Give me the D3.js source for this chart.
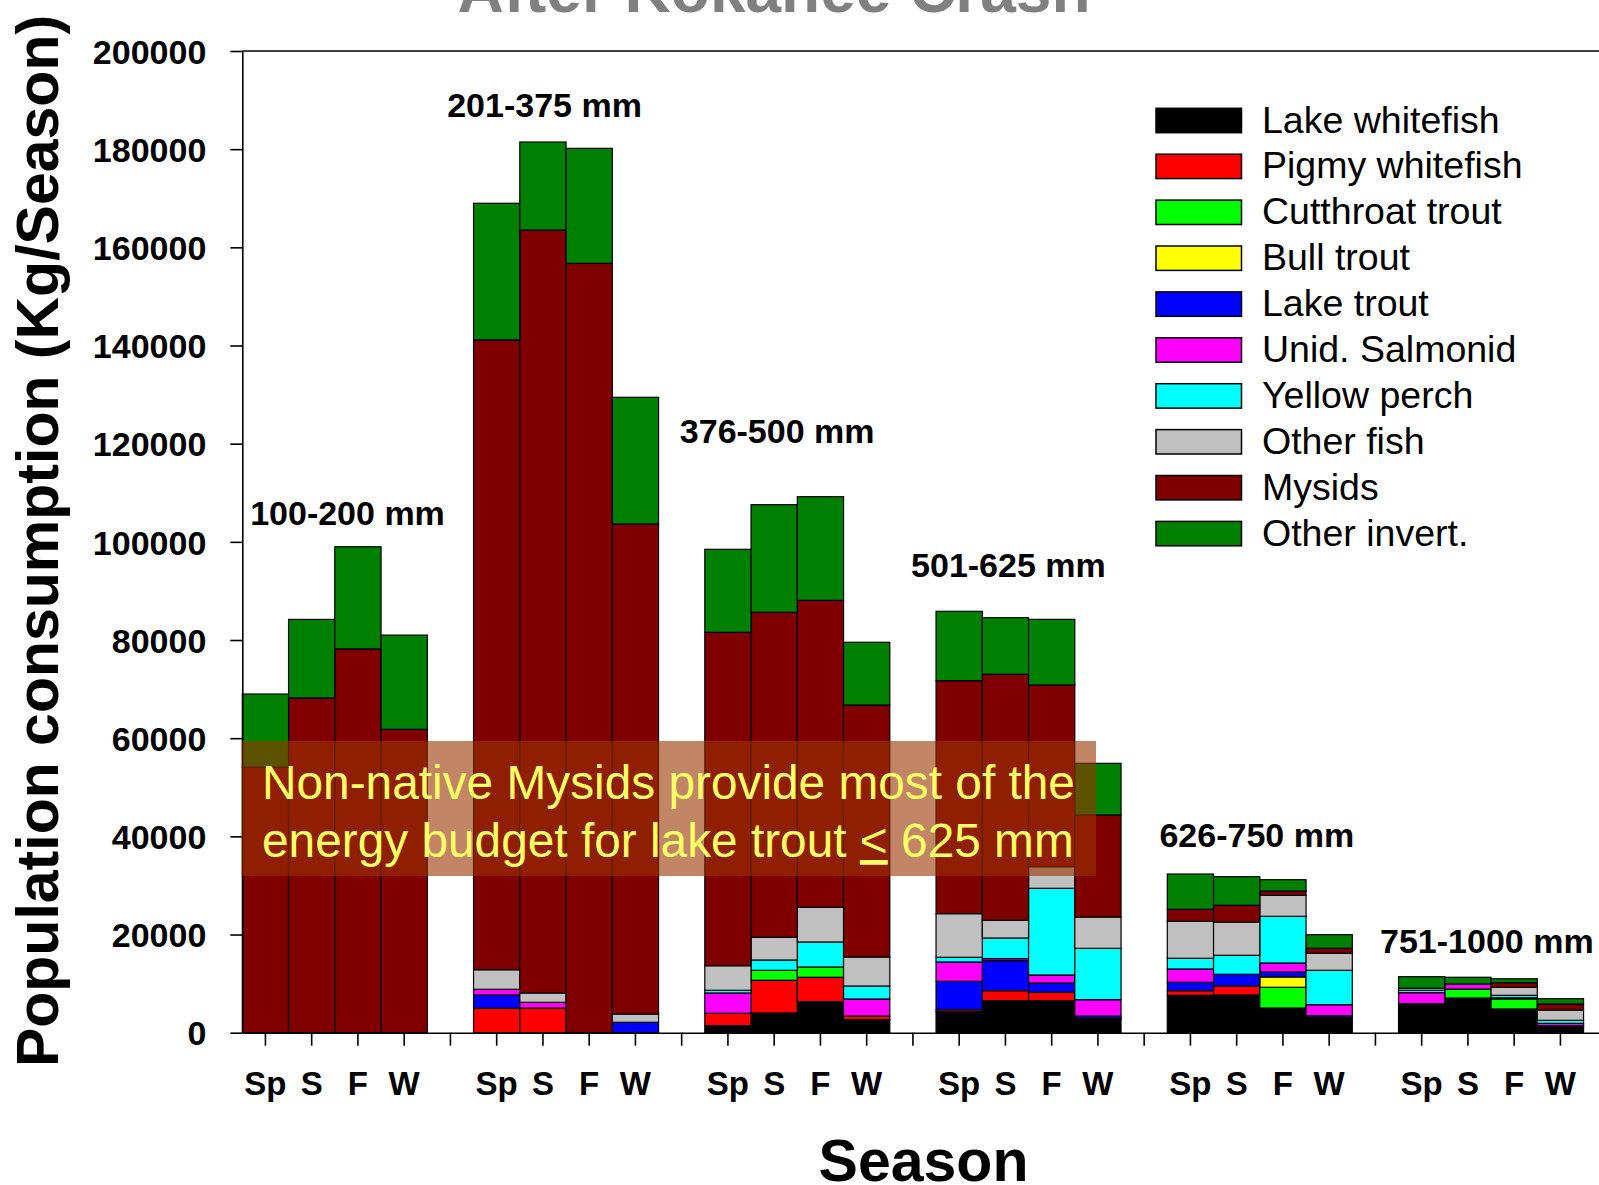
<!DOCTYPE html>
<html>
<head>
<meta charset="utf-8">
<script src="https://cdn.jsdelivr.net/npm/d3@7"></script>
<style>
  html, body { margin: 0; padding: 0; background: #fff; }
  svg { display: block; font-family: "Liberation Sans", Arial, sans-serif; }
</style>
</head>
<body>
<svg id="chart" width="1599" height="1185"></svg>
<script>
// ---------------- data ----------------
const groups = ["100-200 mm", "201-375 mm", "376-500 mm", "501-625 mm", "626-750 mm", "751-1000 mm"];
const seasons = ["Sp", "S", "F", "W"];
const seriesNames = ["Lake whitefish", "Pigmy whitefish", "Cutthroat trout", "Bull trout", "Lake trout",
                     "Unid. Salmonid", "Yellow perch", "Other fish", "Mysids", "Other invert."];
const seriesColors = ["#000000", "#FF0000", "#00FF00", "#FFFF00", "#0000FF",
                      "#FF00FF", "#00FFFF", "#C0C0C0", "#800000", "#008000"];
const yTicks = [0, 20000, 40000, 60000, 80000, 100000, 120000, 140000, 160000, 180000, 200000];

// values per bar (Sp, S, F, W within each size group), in series order
const lakeWhitefish  = [0,0,0,0,  0,0,0,0,  1430,4010,6320,2650,  4280,6520,6520,2730,  7620,7680,5030,3130,  5790,7070,4830,1220];
const pigmyWhitefish = [0,0,0,0,  4970,5030,0,0,  2520,6670,4970,750,  410,2040,1710,200,  940,1830,0,0,  0,0,0,0];
const cutthroatTrout = [0,0,0,0,  0,0,0,0,  0,2030,2100,0,  0,0,0,0,  0,0,4220,0,  0,1830,2040,0];
const bullTrout      = [0,0,0,0,  0,0,0,0,  0,0,0,0,  0,0,0,0,  0,0,2100,0,  0,0,0,0];
const lakeTrout      = [0,0,0,0,  2710,0,0,2120,  0,0,0,0,  5780,6110,1900,470,  1710,2390,1020,330,  100,0,0,210];
const unidSalmonid   = [0,0,0,0,  1160,1160,0,0,  4140,0,0,3470,  3930,410,1630,3320,  2710,0,1830,2240,  2260,1020,250,470];
const yellowPerch    = [0,0,0,0,  0,0,0,0,  550,2100,5090,2640,  960,4210,17660,10470,  2180,3870,9510,7010,  490,0,490,620];
const otherFish      = [0,0,0,0,  3990,1900,0,1690,  5010,4630,7070,5910,  8890,3610,4400,6380,  7530,6780,4280,3470,  410,0,1630,2100];
const mysids         = [54100,68200,78200,61800,  128300,155440,156740,99830,  67920,66200,62540,51340,  47460,50120,37020,20780,  2450,3410,880,1010,  0,0,940,1230];
const otherInvert    = [14900,16000,20800,19200,  27850,17930,23430,25810,  16910,21930,21110,12780,  14140,11530,13370,10530,  7190,5830,2300,2780,  2360,1370,810,1080];

const seriesValues = [lakeWhitefish, pigmyWhitefish, cutthroatTrout, bullTrout, lakeTrout,
                      unidSalmonid, yellowPerch, otherFish, mysids, otherInvert];

// annotation text
const titleText = "After Kokanee Crash";
const yTitle = "Population consumption (Kg/Season)";
const xTitle = "Season";
const noteLine1 = "Non-native Mysids provide most of the";
const noteLine2a = "energy budget for lake trout ";
const noteLine2b = "<";
const noteLine2c = " 625 mm";

// ---------------- layout ----------------
const svg = d3.select("#chart");
const plotLeft = 242.3, plotBottom = 1032.7, plotTop = 51;
const slotW = 46.25;

// build slot list: 4 seasons + 1 gap per group
const slots = [];
groups.forEach((g, gi) => {
  seasons.forEach(s => slots.push({key: gi + "-" + s, label: s, gi}));
  slots.push({key: gi + "-gap", label: "", gi});
});

const x = d3.scaleBand()
  .domain(slots.map(d => d.key))
  .range([plotLeft, plotLeft + slots.length * slotW])
  .padding(0);

const y = d3.scaleLinear().domain([0, 200000]).range([plotBottom, plotTop]);

// rows for stacking
const rows = [];
groups.forEach((g, gi) => {
  seasons.forEach((s, si) => {
    const idx = gi * 4 + si;
    const row = {key: gi + "-" + s};
    seriesNames.forEach((n, k) => row[n] = seriesValues[k][idx]);
    rows.push(row);
  });
});

const stack = d3.stack().keys(seriesNames);
const stacked = stack(rows);

// bars
const barsG = svg.append("g");
stacked.forEach((layer, k) => {
  barsG.append("g")
    .selectAll("rect")
    .data(layer.filter(d => d[1] - d[0] > 0))
    .join("rect")
    .attr("x", d => x(d.data.key))
    .attr("width", x.bandwidth())
    .attr("y", d => y(d[1]))
    .attr("height", d => y(d[0]) - y(d[1]))
    .attr("fill", seriesColors[k])
    .attr("stroke", "#000")
    .attr("stroke-width", 1.2);
});

// axes
const yAxis = d3.axisLeft(y).tickValues(yTicks).tickSize(12).tickSizeOuter(0).tickFormat(d3.format("d"));
const yg = svg.append("g").attr("transform", `translate(${plotLeft},0)`).call(yAxis);
yg.select(".domain").attr("stroke", "#000").attr("stroke-width", 1.6);
yg.selectAll(".tick line").attr("stroke", "#000").attr("stroke-width", 1.6);
yg.selectAll(".tick text")
  .attr("x", -36)
  .attr("dy", "0.36em")
  .attr("font-size", 34)
  .attr("font-weight", "bold")
  .attr("font-family", "Liberation Sans, Arial, sans-serif")
  .attr("fill", "#000");

const xAxis = d3.axisBottom(x).tickSize(13).tickSizeOuter(0).tickFormat(k => slots.find(s => s.key === k).label);
const xg = svg.append("g").attr("transform", `translate(0,${plotBottom})`).call(xAxis);
xg.select(".domain").attr("stroke", "#000").attr("stroke-width", 1.6);
xg.selectAll(".tick line").attr("stroke", "#000").attr("stroke-width", 1.6);
xg.selectAll(".tick text")
  .attr("y", 62)
  .attr("dy", 0)
  .attr("font-size", 33)
  .attr("font-weight", "bold")
  .attr("font-family", "Liberation Sans, Arial, sans-serif")
  .attr("fill", "#000");

// top frame line
svg.append("line")
  .attr("x1", plotLeft).attr("x2", 1599)
  .attr("y1", y(200000)).attr("y2", y(200000))
  .attr("stroke", "#000").attr("stroke-width", 1.6);

// group labels (placement in data units: slot offset from group start, value)
const groupLabelPlace = [[0.17, 103430], [-0.57, 186560], [-0.54, 120080], [-0.54, 92840], [-0.17, 37830], [-0.40, 16180]];
svg.append("g").selectAll("text")
  .data(groups)
  .join("text")
  .attr("x", (g, i) => x(i + "-Sp") + groupLabelPlace[i][0] * slotW)
  .attr("y", (g, i) => y(groupLabelPlace[i][1]))
  .attr("font-size", 34)
  .attr("font-weight", "bold")
  .attr("fill", "#000")
  .text(d => d);

// legend
const legend = svg.append("g");
seriesNames.forEach((n, i) => {
  const ly = 108.3 + i * 45.9;
  legend.append("rect")
    .attr("x", 1156).attr("y", ly).attr("width", 85.5).attr("height", 24.4)
    .attr("fill", seriesColors[i]).attr("stroke", "#000").attr("stroke-width", 1.5);
  legend.append("text")
    .attr("x", 1262).attr("y", ly + 24.2)
    .attr("font-size", 37.5)
    .attr("fill", "#000")
    .text(n);
});

// annotation box
svg.append("rect")
  .attr("x", 241.5).attr("y", 741).attr("width", 1096 - 241.5).attr("height", 876 - 741)
  .attr("fill", "#993300").attr("fill-opacity", 0.6);

svg.append("text")
  .attr("x", 262).attr("y", 799)
  .attr("font-size", 47.8).attr("fill", "#FFFF66")
  .text(noteLine1);
const t2 = svg.append("text")
  .attr("x", 262).attr("y", 857)
  .attr("font-size", 47.8).attr("fill", "#FFFF66");
t2.append("tspan").text(noteLine2a);
t2.append("tspan").attr("text-decoration", "underline").style("text-decoration", "underline").text(noteLine2b);
t2.append("tspan").text(noteLine2c);

// title (cut at top, as in the reference)
svg.append("text")
  .attr("x", 774).attr("y", 12)
  .attr("text-anchor", "middle")
  .attr("font-size", 64).attr("font-weight", "bold")
  .attr("fill", "#808080")
  .text(titleText);

// axis titles
svg.append("text")
  .attr("transform", `translate(58,541) rotate(-90)`)
  .attr("text-anchor", "middle")
  .attr("font-size", 59).attr("font-weight", "bold")
  .attr("fill", "#000")
  .text(yTitle);

svg.append("text")
  .attr("x", 923.5).attr("y", 1181)
  .attr("text-anchor", "middle")
  .attr("font-size", 59).attr("font-weight", "bold")
  .attr("fill", "#000")
  .text(xTitle);
</script>
</body>
</html>
